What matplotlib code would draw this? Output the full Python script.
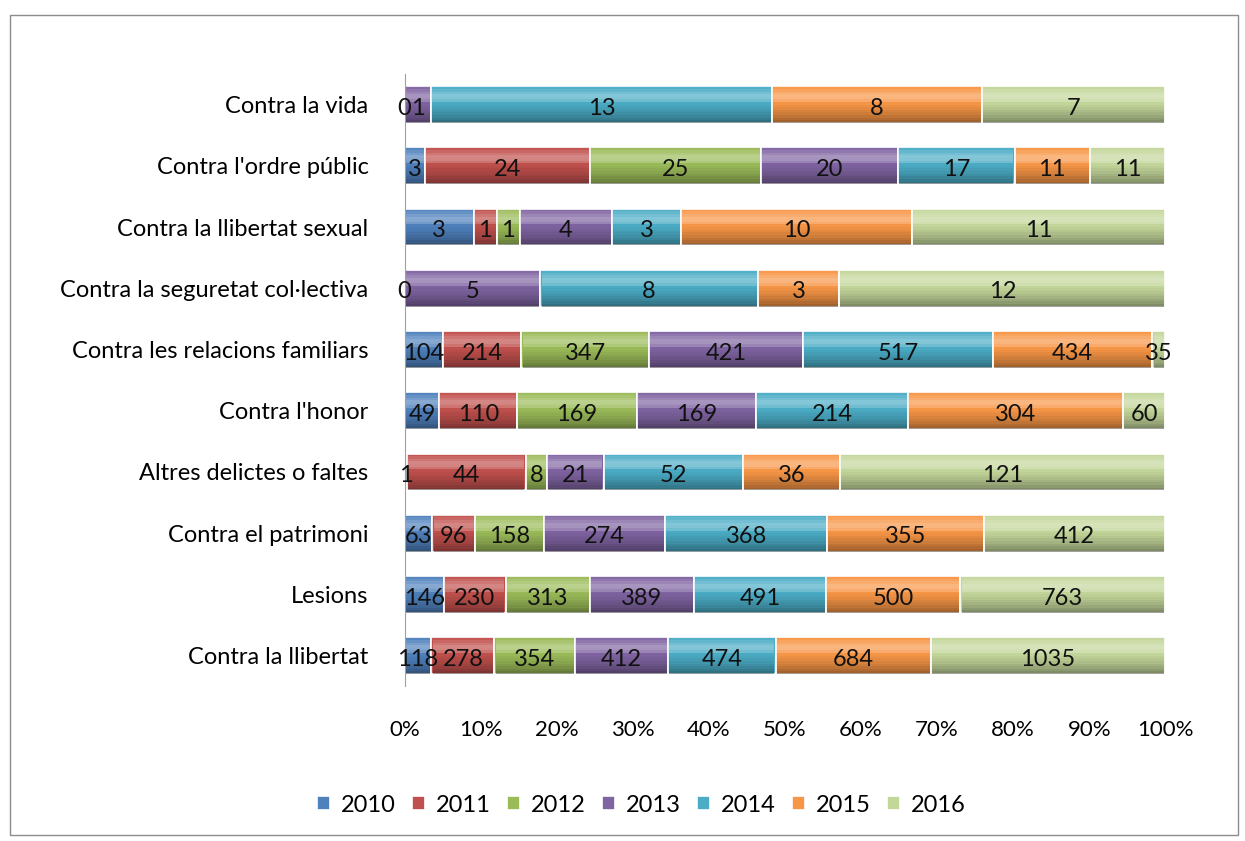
import numpy as np
import matplotlib
matplotlib.use("Agg")
import matplotlib.pyplot as plt
from matplotlib.patches import Rectangle

# categories from bottom to top
categories = [
    "Contra la llibertat",
    "Lesions",
    "Contra el patrimoni",
    "Altres delictes o faltes",
    "Contra l'honor",
    "Contra les relacions familiars",
    "Contra la seguretat col·lectiva",
    "Contra la llibertat sexual",
    "Contra l'ordre públic",
    "Contra la vida",
]
years = ["2010", "2011", "2012", "2013", "2014", "2015", "2016"]

# None = empty cell (no label drawn)
v2010 = [118, 146, 63, 1, 49, 104, 0, 3, 3, None]
v2011 = [278, 230, 96, 44, 110, 214, None, 1, 24, None]
v2012 = [354, 313, 158, 8, 169, 347, None, 1, 25, 0]
v2013 = [412, 389, 274, 21, 169, 421, 5, 4, 20, 1]
v2014 = [474, 491, 368, 52, 214, 517, 8, 3, 17, 13]
v2015 = [684, 500, 355, 36, 304, 434, 3, 10, 11, 8]
v2016 = [1035, 763, 412, 121, 60, 35, 12, 11, 11, 7]

colors = ["#4F81BD", "#C0504D", "#9BBB59", "#8064A2", "#4BACC6", "#F79646", "#C4D79B"]

series = [v2010, v2011, v2012, v2013, v2014, v2015, v2016]
raw = np.array([[np.nan if v is None else v for v in s] for s in series], dtype=float)
vals = np.nan_to_num(raw)
pct = vals / vals.sum(axis=0) * 100

plt.rcParams["font.family"] = ["Lato", "DejaVu Sans"]

fig = plt.figure(figsize=(12.45, 8.41), dpi=100)
ax = fig.add_axes([0.325, 0.184, 0.611, 0.728])

y = np.arange(len(categories))
h = 0.6
# cylinder look: thin bands from bottom to top, (shade colour, alpha)
nb = 14
edges = np.linspace(-h / 2, h / 2, nb + 1)
mids = (edges[:-1] + edges[1:]) / 2
shade = []
for m in mids:
    t = (m + h / 2) / h  # 0 bottom .. 1 top
    if t < 0.6:
        shade.append(("black", 0.38 * (1 - t / 0.6) ** 1.5))
    else:
        shade.append(("white", 0.35 * (1 - abs(t - 0.72) / 0.28)))

left = np.zeros(len(categories))
for i, yr in enumerate(years):
    ax.barh(y, pct[i], left=left, height=h, color=colors[i],
            edgecolor="white", linewidth=1.2, label=yr, zorder=2)
    for m, (c, a) in zip(mids, shade):
        if a <= 0.01:
            continue
        ax.barh(y + m, np.maximum(pct[i] - 0.3, 0), left=left + 0.15,
                height=h / nb, color=c, alpha=a, linewidth=0, zorder=3)
    for j in range(len(categories)):
        if np.isnan(raw[i, j]):
            continue
        ax.text(left[j] + pct[i, j] / 2, y[j] - 0.06, f"{int(raw[i, j])}",
                ha="center", va="center", fontsize=17, color="#111111", zorder=4)
    left += pct[i]

ax.set_xlim(0, 100)
ax.set_ylim(-0.5, len(categories) - 0.5)
ax.set_xticks(np.arange(0, 101, 10))
ax.set_xticklabels([f"{t}%" for t in range(0, 101, 10)], fontsize=16)
ax.set_yticks(y)
ax.set_yticklabels(categories, fontsize=17)
ax.tick_params(axis="x", length=0, pad=24)
ax.tick_params(axis="y", length=0, pad=26)
for s in ["top", "right", "bottom"]:
    ax.spines[s].set_visible(False)
ax.spines["left"].set_color("#A0A0A0")

fig.legend(loc="lower center", bbox_to_anchor=(0.515, 0.005), ncol=7, frameon=False,
           fontsize=17, handlelength=0.55, handleheight=0.55, handletextpad=0.45,
           columnspacing=0.7)

fig.patches.append(Rectangle((10 / 1245, 6 / 841), 1228 / 1245, 820 / 841,
                             transform=fig.transFigure, fill=False,
                             edgecolor="#8C8C8C", linewidth=1))

fig.savefig("out.png", dpi=100)
